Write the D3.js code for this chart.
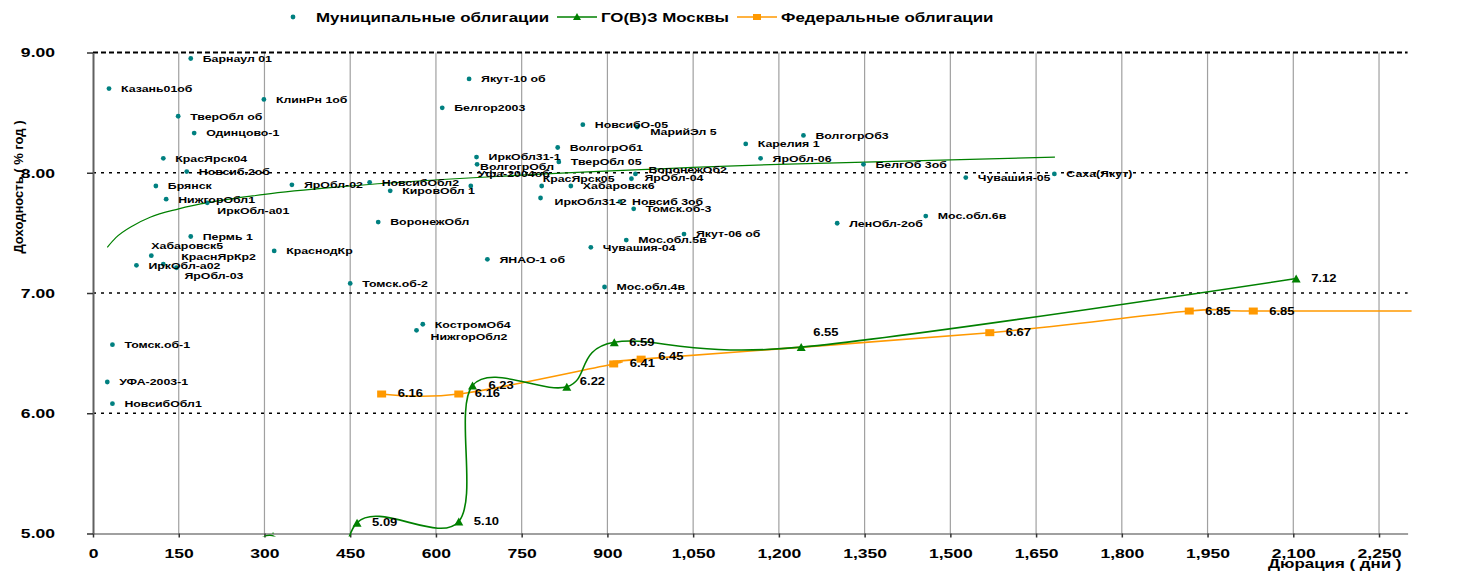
<!DOCTYPE html>
<html><head><meta charset="utf-8">
<script src="https://cdn.jsdelivr.net/npm/d3@7"></script>
<style>
html,body{margin:0;padding:0;background:#fff;}
svg{display:block;font-family:"Liberation Sans",Arial,sans-serif;font-weight:bold;}
</style></head>
<body><svg id="c" width="1457" height="573"></svg>
<script>
// ---- data ----
const munNames = ["Барнаул 01","Казань01об","КлинРн 1об","ТверОбл об","Одинцово-1","КрасЯрск04","Новсиб.2об","Брянск","НижгорОбл1","ИркОбл-а01",
"Пермь 1","Хабаровск5","КраснЯрКр2","ИркОбл-а02","ЯрОбл-03","КраснодКр","Томск.об-2","ЯрОбл-02","НовсибОбл2","КировОбл 1",
"ВоронежОбл","Якут-10 об","Белгор2003","ИркОбл31-1","ВолгогрОбл","Уфа-2004об","ВолгогрОб1","ТверОбл 05","КрасЯрск05","Хабаровск6",
"ИркОбл31-2","Новсиб 3об","Томск.об-3","ВоронежОб2","ЯрОбл-04","НовсибО-05","МарийЭл 5","Якут-06 об","Мос.обл.5в","Чувашия-04",
"ЯНАО-1 об","Мос.обл.4в","Карелия 1","ВолгогрОб3","ЯрОбл-06","БелгОб 3об","ЛенОбл-2об","Мос.обл.6в","Чувашия-05","Саха(Якут)",
"Томск.об-1","УФА-2003-1","НовсибОбл1","КостромОб4","НижгорОбл2"];
const munDays = [171,28,299,149,177,123,164,110,128,200,
171,102,123,76,146,317,450,348,484,520,
499,658,611,671,672,661,813,815,785,836,
783,922,946,949,942,857,952,1034,933,871,
690,895,1142,1243,1168,1348,1302,1457,1527,1682,
34,25,34,577,566];
const munYields = [8.95,8.70,8.61,8.47,8.33,8.12,8.01,7.89,7.78,7.75,
7.47,7.31,7.24,7.23,7.21,7.35,7.08,7.90,7.92,7.85,
7.59,8.78,8.54,8.13,8.07,7.89,8.21,8.09,7.89,7.89,
7.79,7.76,7.70,7.99,7.95,8.40,8.38,7.49,7.44,7.38,
7.28,7.05,8.24,8.31,8.12,8.07,7.58,7.64,7.96,7.99,
6.57,6.26,6.08,6.74,6.69];

// trend of municipal bonds
const trendDays = [25,40,70,100,150,300,450,750,1200,1683];
const trendYields = [7.38,7.46,7.56,7.63,7.70,7.82,7.89,7.98,8.07,8.13];

// ГО(В)З Москвы
const mosDays = [200,315,410,462,640,664,829,912,1239,2105];
const mosYields = [4.40,4.98,4.00,5.09,5.10,6.23,6.22,6.59,6.55,7.12];

// Федеральные облигации
const fedDays = [505,640,911,959,1569,1918,2030,2500];
const fedYields = [6.16,6.16,6.41,6.45,6.67,6.85,6.85,6.85];

const xTicks = [0,150,300,450,600,750,900,1050,1200,1350,1500,1650,1800,1950,2100,2250];
const yTicks = [5,6,7,8,9];
const legendLabels = ["Муниципальные облигации","ГО(В)З Москвы","Федеральные облигации"];
const xTitle = "Дюрация ( дни )";
const yTitle = "Доходность ( % год )";

// ---- layout / style ----
const SX = 1.3; // horizontal text stretch of the original picture
const munNudge = {9:[10,8],11:[0,-10],12:[18,-7],13:[12,0],14:[8,8],24:[3,2],25:[7,-12],28:[1,-7],30:[14,4],33:[13,-4],34:[13,-1],36:[13,5],54:[14,6]};
const mosNudge = {5:[16,0],6:[13,-5],8:[12,-15]};
const fedNudge = {0:[16,-1],1:[16,-1],3:[17,-3]};

const svg = d3.select("#c");
const x = d3.scaleLinear().domain([0,2300]).range([93,1407.6]);
const y = d3.scaleLinear().domain([5,9]).range([533.5,52.5]);

const defs = svg.append("defs");
defs.append("clipPath").attr("id","plot").append("rect")
  .attr("x",x(0)).attr("y",y(9)-1).attr("width",x(2300)-x(0)).attr("height",y(5)-y(9)+1);
defs.append("clipPath").attr("id","lineclip").append("rect")
  .attr("x",x(0)).attr("y",y(9)-2).attr("width",x(2300)-x(0)+4).attr("height",y(5)-y(9)+5);

function stext(g, px, py, str, size, anchor){
  return g.append("text").attr("transform",`translate(${px},${py}) scale(${SX},1)`)
    .attr("font-size",size).attr("text-anchor",anchor||"start").attr("dy","0.35em")
    .attr("fill","#000").text(str);
}

// vertical grid
svg.append("g").selectAll("line").data(xTicks.filter(d=>d>0)).join("line")
  .attr("x1",d=>x(d)).attr("x2",d=>x(d)).attr("y1",y(9)).attr("y2",y(5))
  .attr("stroke","#a0a0a0").attr("stroke-width",1.2);
// horizontal dashed grid
svg.append("g").selectAll("line").data(yTicks.filter(d=>d>5)).join("line")
  .attr("x1",x(0)).attr("x2",x(2300)).attr("y1",d=>y(d)).attr("y2",d=>y(d))
  .attr("stroke","#000").attr("stroke-width",d=>d===9?2:1.5)
  .attr("stroke-dasharray",d=>d===9?"5,3":"3,5");

// axes
const xAxis = svg.append("g").attr("transform",`translate(0,${y(5)})`)
  .call(d3.axisBottom(x).tickValues(xTicks).tickFormat(d3.format(",")).tickSize(4).tickSizeOuter(0).tickPadding(11));
xAxis.select(".domain").attr("stroke","#808080").attr("stroke-width",1.5);
xAxis.selectAll(".tick line").attr("stroke","#333").attr("stroke-width",1.5);
xAxis.selectAll(".tick text").attr("font-size",13.5).attr("fill","#000")
  .attr("transform",`scale(${SX},1)`);
const yAxis = svg.append("g").attr("transform",`translate(${x(0)},0)`)
  .call(d3.axisLeft(y).tickValues(yTicks).tickFormat(d3.format(".2f")).tickSize(6).tickSizeOuter(0));
yAxis.select(".domain").attr("stroke","#606060").attr("stroke-width",2);
yAxis.selectAll(".tick line").attr("stroke","#333").attr("stroke-width",1.5);
yAxis.selectAll(".tick text").attr("font-size",13.5).attr("fill","#000")
  .attr("x",-38/SX).attr("transform",`scale(${SX},1)`);
xAxis.attr("font-family",null).attr("font-size",null);
yAxis.attr("font-family",null).attr("font-size",null);

// axis titles
svg.append("text").attr("transform",`translate(18,187) rotate(-90)`).attr("text-anchor","middle")
  .attr("dy","0.35em").attr("font-size",13).text(yTitle);
stext(svg, 1268, 563, xTitle, 13, "start");

// trend line
svg.append("path").attr("clip-path","url(#lineclip)")
  .datum(trendDays.map((d,i)=>[d,trendYields[i]]))
  .attr("d",d3.line().x(d=>x(d[0])).y(d=>y(d[1])).curve(d3.curveMonotoneX))
  .attr("fill","none").attr("stroke","#008000").attr("stroke-width",1.2);

// series lines (Excel-like smoothing)
const smooth = d3.curveCardinal.tension(0);
svg.append("path").attr("clip-path","url(#lineclip)")
  .datum(fedDays.map((d,i)=>[d,fedYields[i]]))
  .attr("d",d3.line().x(d=>x(d[0])).y(d=>y(d[1])).curve(smooth))
  .attr("fill","none").attr("stroke","#FF9900").attr("stroke-width",1.6);
svg.append("path").attr("clip-path","url(#lineclip)")
  .datum(mosDays.map((d,i)=>[d,mosYields[i]]))
  .attr("d",d3.line().x(d=>x(d[0])).y(d=>y(d[1])).curve(smooth))
  .attr("fill","none").attr("stroke","#008000").attr("stroke-width",1.6);

// markers
const tri = (w,h)=>`M0,${-h/2}L${w/2},${h/2}L${-w/2},${h/2}Z`;
svg.append("g").attr("clip-path","url(#plot)").selectAll("path").data(mosDays).join("path")
  .attr("transform",(d,i)=>`translate(${x(d)},${y(mosYields[i])})`)
  .attr("d",tri(9,8)).attr("fill","#008000");
svg.append("g").attr("clip-path","url(#plot)").selectAll("rect").data(fedDays).join("rect")
  .attr("x",(d)=>x(d)-4.5).attr("y",(d,i)=>y(fedYields[i])-3.5).attr("width",9).attr("height",7)
  .attr("fill","#FF9900");
svg.append("g").selectAll("circle").data(munDays).join("circle")
  .attr("cx",d=>x(d)).attr("cy",(d,i)=>y(munYields[i])).attr("r",2.4).attr("fill","#008080");

// labels
const lg = svg.append("g");
munDays.forEach((d,i)=>{
  const n = munNudge[i]||[12,0];
  stext(lg, x(d)+n[0], y(munYields[i])+n[1], munNames[i], 9.5);
});
const fmt = d3.format(".2f");
mosDays.forEach((d,i)=>{
  if (mosYields[i] < 5 || d > 2300) return;
  const n = mosNudge[i]||[15,0];
  stext(lg, x(d)+n[0], y(mosYields[i])+n[1], fmt(mosYields[i]), 10);
});
fedDays.forEach((d,i)=>{
  if (d > 2300) return;
  const n = fedNudge[i]||[16,0];
  stext(lg, x(d)+n[0], y(fedYields[i])+n[1], fmt(fedYields[i]), 10);
});

// legend
const leg = svg.append("g");
leg.append("circle").attr("cx",293).attr("cy",17).attr("r",2.4).attr("fill","#008080");
stext(leg, 316, 17, legendLabels[0], 13);
leg.append("line").attr("x1",557).attr("x2",597).attr("y1",17).attr("y2",17).attr("stroke","#008000").attr("stroke-width",1.6);
leg.append("path").attr("transform","translate(577,16.5)").attr("d",tri(8,7)).attr("fill","#008000");
stext(leg, 601, 17, legendLabels[1], 13);
leg.append("line").attr("x1",737).attr("x2",777).attr("y1",17).attr("y2",17).attr("stroke","#FF9900").attr("stroke-width",1.6);
leg.append("rect").attr("x",753).attr("y",14).attr("width",8).attr("height",6).attr("fill","#FF9900");
stext(leg, 781, 17, legendLabels[2], 13);
</script></body></html>
